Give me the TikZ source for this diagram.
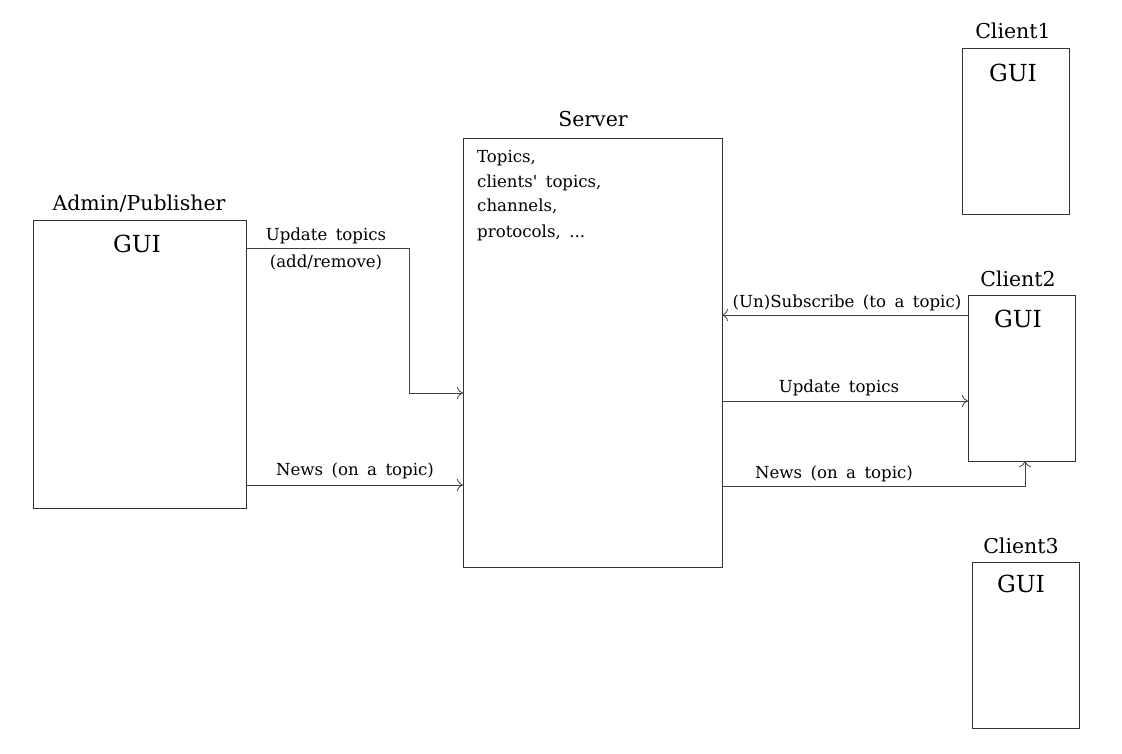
\documentclass[tikz,border=0pt]{standalone}
\usepackage{fontspec}
\setmainfont{DejaVu Serif}[WordSpace={1.6,1,1}]
\newfontfamily\rawfont{DejaVu Serif}
\usetikzlibrary{arrows.meta}
\begin{document}
\begin{tikzpicture}[x=1pt,y=-1pt,
  box/.style={draw=black!80,line width=0.9pt,fill=none},
  ttl/.style={font=\fontsize{20.5}{24}\selectfont,anchor=base},
  gui/.style={font=\fontsize{23.5}{28}\selectfont,anchor=base},
  lbl/.style={font=\fontsize{16.6}{20}\selectfont,anchor=base},
  conn/.style={draw=black!75,line width=0.8pt,-{To[length=6pt,width=12pt]}}]
\useasboundingbox (0,0) rectangle (1122,754);
% boxes
\draw[box] (33,220) rectangle (246,508);
\draw[box] (463,138) rectangle (722,567);
\draw[box] (962,48) rectangle (1069,214);
\draw[box] (968,295) rectangle (1075,461);
\draw[box] (972,562) rectangle (1079,728);
% titles
\node[ttl] (tAdmin) at (139,211) {Admin/Publisher};
\node[gui] (gAdmin) at (137,252) {GUI};
\node[ttl] (tServer) at (593,127) {Server};
\node[ttl] (tC1) at (1013,39) {Client1};
\node[gui] (gC1) at (1013,82) {GUI};
\node[ttl] (tC2) at (1018,286) {Client2};
\node[gui] (gC2) at (1018,327) {GUI};
\node[ttl] (tC3) at (1021,553) {Client3};
\node[gui] (gC3) at (1021,592) {GUI};
% server text
\node[lbl,anchor=base west,inner xsep=0pt] (s1) at (477,163) {Topics,};
\node[lbl,anchor=base west,inner xsep=0pt] (s2) at (477,188) {clients{\rawfont'} topics,};
\node[lbl,anchor=base west,inner xsep=0pt] (s3) at (477,212) {channels,};
\node[lbl,anchor=base west,inner xsep=0pt] (s4) at (477,237) {protocols, ...};
% connector anchors
\coordinate (a1) at (246,248);
\coordinate (a1b) at (409,248);
\coordinate (a1c) at (409,393);
\coordinate (s1in) at (463,393);
\coordinate (a2) at (246,485);
\coordinate (s2in) at (463,485);
\coordinate (c2sub) at (968,315);
\coordinate (ssub) at (722,315);
\coordinate (supd) at (722,401);
\coordinate (c2upd) at (968,401);
\coordinate (snews) at (722,486);
\coordinate (cn) at (1025,486);
\coordinate (c2news) at (1025,461);
\draw[conn] (a1) -- (a1b) -- (a1c) -- (s1in);
\draw[conn] (a2) -- (s2in);
\draw[conn] (c2sub) -- (ssub);
\draw[conn] (supd) -- (c2upd);
\draw[conn] (snews) -- (cn) -- (c2news);
% labels
\node[lbl] (l1) at (326,241) {Update topics};
\node[lbl] (l2) at (326,268) {(add/remove)};
\node[lbl] (l3) at (355,475) {News (on a topic)};
\node[lbl] (l4) at (847,307) {(Un)Subscribe (to a topic)};
\node[lbl] (l5) at (839,392) {Update topics};
\node[lbl] (l6) at (834,478) {News (on a topic)};
\end{tikzpicture}
\end{document}
